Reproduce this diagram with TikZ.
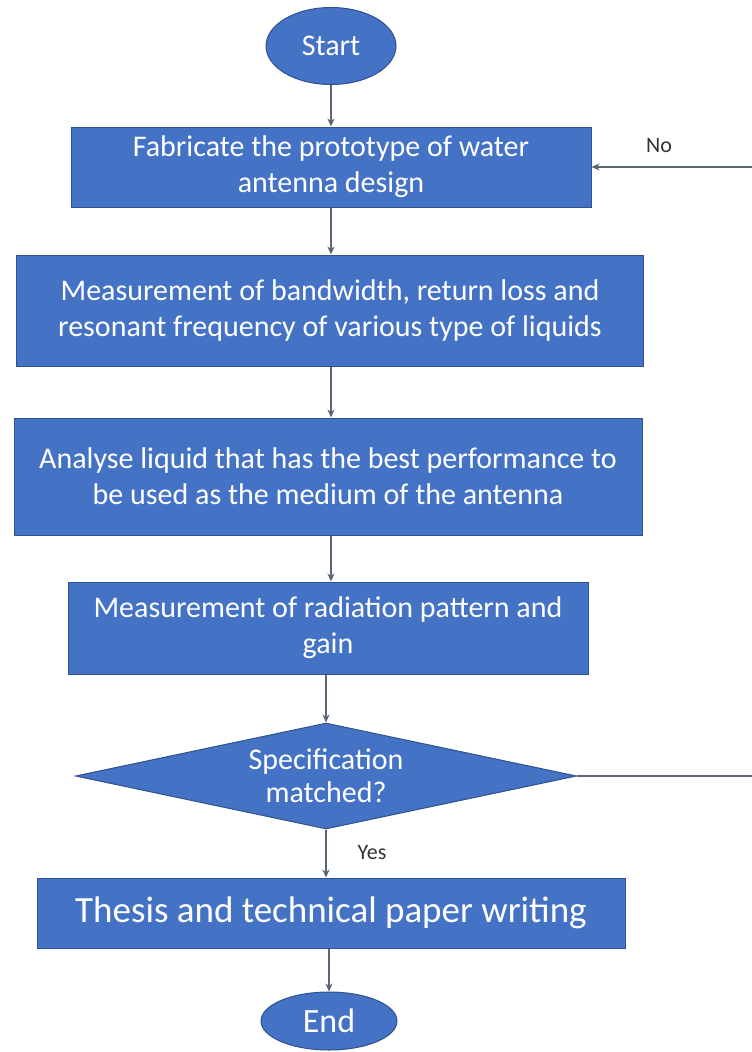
\documentclass[tikz,border=0pt]{standalone}
\usepackage{fontspec}
\setmainfont{Carlito}
\usetikzlibrary{shapes.geometric,arrows.meta}
\definecolor{boxfill}{HTML}{4472C4}
\definecolor{boxline}{HTML}{2F528F}
\definecolor{linec}{HTML}{5A6675}
\begin{document}
\begin{tikzpicture}[x=1pt,y=-1pt,
  base/.style={fill=boxfill, draw=boxline, line width=1pt, text=white, align=center, inner sep=0pt},
  procbox/.style={base, rectangle, font=\fontsize{30}{36}\selectfont},
  term/.style={base, ellipse},
  decide/.style={base, diamond, aspect=4.7, font=\fontsize{30}{33}\selectfont},
  arr/.style={draw=linec, line width=1.3pt, -{Stealth[length=8pt,width=7pt]}},
  lbl/.style={font=\fontsize{22}{26}\selectfont, text=black!80, inner sep=0pt}]
\useasboundingbox (0,0) rectangle (752,1052);
\clip (0,0) rectangle (752,1052);
\fill[white] (0,0) rectangle (752,1052);

\node[term, minimum width=130pt, minimum height=77pt, font=\fontsize{30}{36}\selectfont] (start) at (331,46) {Start};
\node[procbox, minimum width=520pt, minimum height=80pt] (fab) at (331,167)
  {Fabricate the prototype of water\\antenna design};
\node[procbox, minimum width=627pt, minimum height=111pt] (meas) at (330,310.5)
  {Measurement of bandwidth, return loss and\\resonant frequency of various type of liquids};
\node[procbox, minimum width=628pt, minimum height=117pt] (ana) at (328,476.5)
  {Analyse liquid that has the best performance to\\be used as the medium of the antenna};
\node[procbox, minimum width=520pt, minimum height=92pt] (rad) at (328,628)
  {Measurement of radiation pattern and\\gain};
\node[decide, minimum width=501pt, minimum height=106pt] (dec) at (326,776)
  {Specification\\matched?};
\node[procbox, minimum width=588pt, minimum height=70pt, font=\fontsize{37}{44}\selectfont] (thesis) at (331,913)
  {Thesis and technical paper writing};
\node[term, minimum width=136pt, minimum height=58pt, font=\fontsize{34}{40}\selectfont] (end) at (329,1021) {End};

\coordinate (loopx) at (790,0);

\draw[arr] (start.south) -- (start.south |- fab.north);
\draw[arr] (fab.south -| start.south) -- (meas.north -| start.south);
\draw[arr] (meas.south -| start.south) -- (ana.north -| start.south);
\draw[arr] (ana.south -| start.south) -- (rad.north -| start.south);
\draw[arr] (rad.south -| dec.north) -- (dec.north);
\draw[arr] (dec.south) -- (thesis.north -| dec.south);
\draw[arr] (thesis.south -| end.north) -- (end.north);
\draw[arr] (dec.east) -- (dec.east -| loopx) |- (fab.east);

\node[lbl] (no) at (659,146) {No};
\node[lbl] (yes) at (372,853) {Yes};
\end{tikzpicture}
\end{document}
